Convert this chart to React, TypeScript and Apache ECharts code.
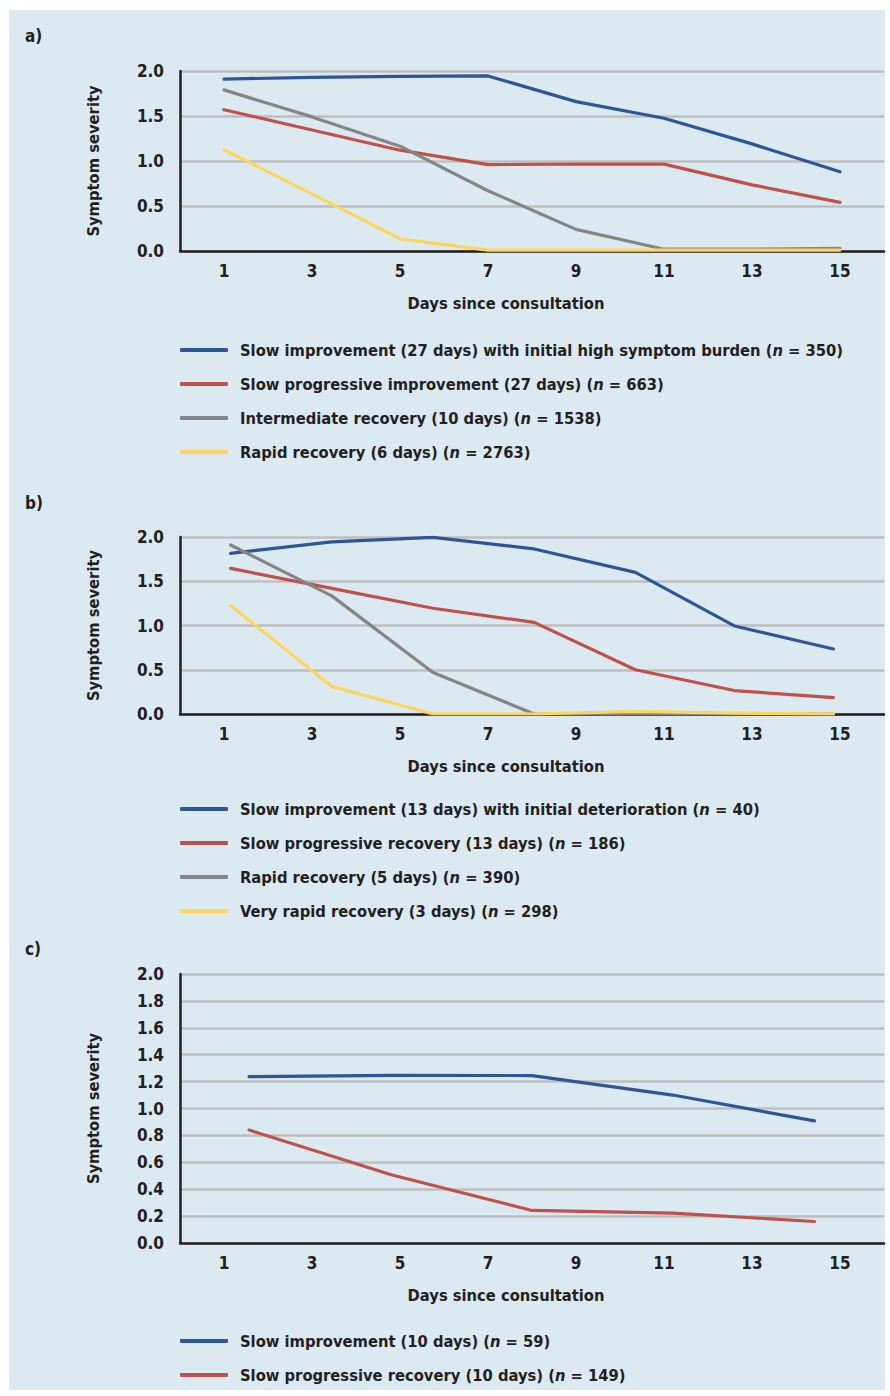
import React, { useEffect, useRef } from 'react';
import * as echarts from 'echarts';

const dayLabels = ['1', '3', '5', '7', '9', '11', '13', '15'];

// Panel a) time points and series values
const xA = [1, 3, 5, 7, 9, 11, 13, 15];
const aBlue = [1.91, 1.93, 1.94, 1.945, 1.66, 1.475, 1.19, 0.88];
const aRed = [1.57, 1.345, 1.12, 0.96, 0.965, 0.965, 0.735, 0.54];
const aGrey = [1.79, 1.49, 1.165, 0.67, 0.24, 0.02, 0.02, 0.03];
const aYellow = [1.125, 0.635, 0.135, 0.01, 0.01, 0.01, 0.01, 0.01];
const aLabels = [
  'Slow improvement (27 days) with initial high symptom burden',
  'Slow progressive improvement (27 days)',
  'Intermediate recovery (10 days)',
  'Rapid recovery (6 days)',
];
const aN = [350, 663, 1538, 2763];

// Panel b)
const xB = [1.15, 3.45, 5.75, 8.05, 10.35, 12.6, 14.85];
const bBlue = [1.815, 1.945, 1.995, 1.865, 1.6, 0.995, 0.735];
const bRed = [1.645, 1.42, 1.195, 1.035, 0.5, 0.265, 0.185];
const bGrey = [1.91, 1.335, 0.47, 0.0, 0.0, 0.0, 0.0];
const bYellow = [1.225, 0.31, 0.0, 0.0, 0.03, 0.01, 0.0];
const bLabels = [
  'Slow improvement (13 days) with initial deterioration',
  'Slow progressive recovery (13 days)',
  'Rapid recovery (5 days)',
  'Very rapid recovery (3 days)',
];
const bN = [40, 186, 390, 298];

// Panel c)
const xC = [1.57, 4.8, 8.0, 11.2, 14.42];
const cBlue = [1.237, 1.247, 1.245, 1.1, 0.908];
const cRed = [0.84, 0.507, 0.242, 0.222, 0.16];
const cLabels = ['Slow improvement (10 days)', 'Slow progressive recovery (10 days)'];
const cN = [59, 149];

const panelLetters = ['a)', 'b)', 'c)'];
const yAxisTitle = 'Symptom severity';
const xAxisTitle = 'Days since consultation';

const COLORS = ['#2f5597', '#c0504d', '#858585', '#ffd65c'];
const FONT = "'DejaVu Sans Condensed', 'Liberation Sans Narrow', 'Roboto', sans-serif";
const INK = '#231f20';
const TXT = 16.4;

const panels = [
  { xs: xA, values: [aBlue, aRed, aGrey, aYellow], labels: aLabels, ns: aN, grid: { top: 71, height: 180 }, interval: 0.5, legendTop: 342, letterY: 37 },
  { xs: xB, values: [bBlue, bRed, bGrey, bYellow], labels: bLabels, ns: bN, grid: { top: 537, height: 177 }, interval: 0.5, legendTop: 801, letterY: 504 },
  { xs: xC, values: [cBlue, cRed], labels: cLabels, ns: cN, grid: { top: 974, height: 269 }, interval: 0.2, legendTop: 1333, letterY: 950 },
];

function buildOption() {
  const grid: any[] = [];
  const xAxis: any[] = [];
  const yAxis: any[] = [];
  const series: any[] = [];
  const legend: any[] = [];
  const lookup: Record<string, { label: string; n: number }> = {};
  const graphics: any[] = [
    { type: 'rect', shape: { x: 9, y: 10, width: 876, height: 1380 }, style: { fill: '#dbeaf1' }, z: -100, silent: true },
  ];

  panels.forEach((p, i) => {
    grid.push({ left: 180, width: 704, top: p.grid.top, height: p.grid.height });
    xAxis.push({
      type: 'category',
      gridIndex: i,
      data: dayLabels,
      boundaryGap: true,
      axisLine: { show: true, lineStyle: { color: INK, width: 2.5 } },
      axisTick: { show: false },
      axisLabel: { interval: 0, margin: 11, color: INK, fontSize: 17, fontWeight: 'bold', fontFamily: FONT },
      splitLine: { show: false },
      name: xAxisTitle,
      nameLocation: 'middle',
      nameGap: 44,
      nameTextStyle: { color: INK, fontSize: TXT, fontWeight: 'bold', fontFamily: FONT, padding: [0, 52, 0, 0] },
    });
    xAxis.push({ type: 'value', gridIndex: i, min: 0, max: 16, show: false });
    yAxis.push({
      type: 'value',
      gridIndex: i,
      min: 0,
      max: 2,
      interval: p.interval,
      axisLine: { show: true, lineStyle: { color: INK, width: 2.5 } },
      axisTick: { show: false },
      axisLabel: { margin: 16, color: INK, fontSize: 17, fontWeight: 'bold', fontFamily: FONT, formatter: (v: number) => v.toFixed(1) },
      splitLine: { show: true, lineStyle: { color: '#bfbfbf', width: 2.5 } },
      name: yAxisTitle,
      nameLocation: 'middle',
      nameRotate: 90,
      nameGap: 79,
      nameTextStyle: { color: INK, fontSize: TXT, fontWeight: 'bold', fontFamily: FONT },
    });
    const names: string[] = [];
    p.values.forEach((vals, j) => {
      const name = `${p.labels[j]} (n = ${p.ns[j]})`;
      names.push(name);
      lookup[name] = { label: p.labels[j], n: p.ns[j] };
      series.push({
        type: 'line',
        name,
        xAxisIndex: 2 * i + 1,
        yAxisIndex: i,
        data: p.xs.map((x, k) => [x, vals[k]]),
        symbol: 'none',
        color: COLORS[j],
        lineStyle: { color: COLORS[j], width: 3.2, cap: 'round', join: 'round' },
        itemStyle: { color: COLORS[j] },
        z: 3,
      });
    });
    legend.push({
      data: names,
      orient: 'vertical',
      left: 180,
      top: p.legendTop,
      padding: 0,
      itemWidth: 48,
      itemHeight: 4,
      itemGap: 18,
      icon: 'roundRect',
      selectedMode: false,
      formatter: (name: string) => {
        const e = lookup[name];
        return `{t|${e.label} (}{i|n}{t| = ${e.n})}`;
      },
      textStyle: {
        padding: [0, 0, 0, 7],
        rich: {
          t: { color: INK, fontSize: TXT, fontWeight: 'bold', fontFamily: FONT },
          i: { color: INK, fontSize: TXT, fontWeight: 'bold', fontStyle: 'italic', fontFamily: FONT },
        },
      },
    });
    graphics.push({
      type: 'text',
      left: 25,
      top: p.letterY - 10,
      style: { text: panelLetters[i], fill: INK, fontSize: 17, fontWeight: 'bold', fontFamily: FONT },
    });
  });

  return {
    animation: false,
    backgroundColor: '#ffffff',
    grid,
    xAxis,
    yAxis,
    series,
    legend,
    graphic: graphics,
  };
}

export default function App() {
  const ref = useRef<HTMLDivElement>(null);
  useEffect(() => {
    const chart = echarts.init(ref.current!, null, { renderer: 'svg' });
    chart.setOption(buildOption() as any);
    return () => chart.dispose();
  }, []);
  return <div ref={ref} style={{ position: 'fixed', left: 0, top: 0, width: 890, height: 1396 }} />;
}
